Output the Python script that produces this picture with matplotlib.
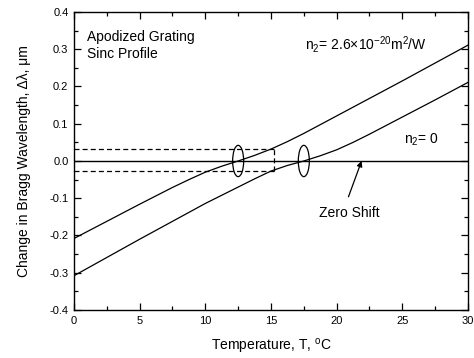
import matplotlib
matplotlib.use("Agg")
import matplotlib.pyplot as plt
from matplotlib.patches import Ellipse
import numpy as np

plt.rcParams['font.family'] = ['Liberation Sans', 'DejaVu Sans']
plt.rcParams['mathtext.fontset'] = 'custom'
plt.rcParams['mathtext.rm'] = 'Liberation Sans'
plt.rcParams['mathtext.it'] = 'Liberation Sans:italic'
plt.rcParams['mathtext.bf'] = 'Liberation Sans:bold'

# Data
temp_upper = [0, 2.5, 5, 7.5, 8.75, 10, 11.25, 12.5, 13.75, 15, 16.25, 17.5,
              20, 22.5, 25, 27.5, 30]
shift_upper = [-0.208, -0.162, -0.116, -0.071, -0.050, -0.030, -0.014, 0.0, 0.015,
               0.032, 0.052, 0.074, 0.121, 0.168, 0.215, 0.263, 0.311]

temp_lower = [0, 2.5, 5, 7.5, 10, 11.25, 12.5, 13.75, 15, 16.25, 17.5, 18.75,
              20, 21.25, 22.5, 25, 27.5, 30]
shift_lower = [-0.308, -0.259, -0.210, -0.162, -0.114, -0.092, -0.070, -0.048, -0.027,
               -0.012, 0.0, 0.014, 0.030, 0.050, 0.072, 0.118, 0.164, 0.211]

window_temp = 15.2
window_top = 0.032
window_bottom = -0.027
crossings = [12.5, 17.5]

x_ticks = [0, 5, 10, 15, 20, 25, 30]
y_ticks = [-0.4, -0.3, -0.2, -0.1, 0.0, 0.1, 0.2, 0.3, 0.4]

fig = plt.figure(figsize=(4.74, 3.58), dpi=100)
ax = fig.add_axes([0.1561, 0.1341, 0.8312, 0.8324])

ax.plot(temp_upper, shift_upper, color='black', lw=0.9)
ax.plot(temp_lower, shift_lower, color='black', lw=0.9)
ax.axhline(0, color='black', lw=1.0)

# dashed window
dash = (0, (4, 2.5))
ax.plot([0, window_temp], [window_top, window_top], color='black', lw=0.9, ls=dash)
ax.plot([0, window_temp], [window_bottom, window_bottom], color='black', lw=0.9, ls=dash)
ax.plot([window_temp, window_temp], [window_bottom, window_top], color='black', lw=0.9, ls=dash)

for c in crossings:
    ax.add_patch(Ellipse((c, 0), width=0.84, height=0.084, fill=False, ec='black', lw=0.9))

ax.text(1.0, 0.332, 'Apodized Grating', fontsize=10, va='center', ha='left')
ax.text(1.0, 0.286, 'Sinc Profile', fontsize=10, va='center', ha='left')
ax.text(17.6, 0.312, 'n$_2$= 2.6\u00d710$^{\\mathrm{-20}}$m$^2$/W', fontsize=10, va='center', ha='left')
ax.text(25.1, 0.056, 'n$_2$= 0', fontsize=10, va='center', ha='left')

ax.annotate('', xy=(21.9, 0.0), xytext=(20.9, -0.096),
            arrowprops=dict(arrowstyle='-|>', color='black', lw=0.9,
                            mutation_scale=8, shrinkA=0, shrinkB=0))
ax.text(21.0, -0.139, 'Zero Shift', fontsize=10, va='center', ha='center')

ax.set_xlim(0, 30)
ax.set_ylim(-0.4, 0.4)
ax.set_xticks(x_ticks)
ax.set_yticks(y_ticks)
ax.set_xticklabels([str(t) for t in x_ticks])
ax.set_yticklabels(['%.1f' % v for v in y_ticks])
ax.set_xticks(np.arange(2.5, 30, 5), minor=True)
ax.set_yticks(np.arange(-0.35, 0.4, 0.1), minor=True)
ax.tick_params(which='both', direction='in', top=True, right=True, labelsize=8, width=0.9)
ax.tick_params(which='major', length=5, pad=4)
ax.tick_params(which='minor', length=3)
for s in ax.spines.values():
    s.set_linewidth(1.0)

ax.set_xlabel('Temperature, T, $^{\\mathrm{o}}$C', fontsize=10, labelpad=8)
ax.set_ylabel('Change in Bragg Wavelength, \u0394\u03bb, \u03bcm', fontsize=10, labelpad=13)

fig.savefig('out.png', dpi=100)
